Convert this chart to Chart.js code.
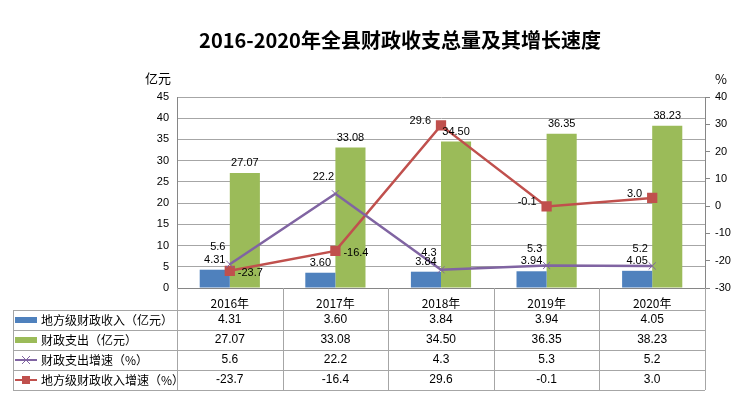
<!DOCTYPE html>
<html>
<head>
<meta charset="utf-8">
<script src="https://cdn.jsdelivr.net/npm/chart.js@4.4.1/dist/chart.umd.min.js"></script>
<style>
  html, body { margin: 0; padding: 0; background: #fff; }
  #wrap { width: 750px; height: 400px; }
</style>
</head>
<body>
<div id="wrap"><canvas id="financeChart" width="750" height="400"></canvas></div>
<script>
// data
const years = ['2016年', '2017年', '2018年', '2019年', '2020年'];
const localRevenue = [4.31, 3.60, 3.84, 3.94, 4.05];        // 亿元
const expenditure = [27.07, 33.08, 34.50, 36.35, 38.23];    // 亿元
const expenditureGrowth = [5.6, 22.2, 4.3, 5.3, 5.2];       // %
const revenueGrowth = [-23.7, -16.4, 29.6, -0.1, 3.0];      // %

const seriesNames = ['地方级财政收入（亿元）', '财政支出（亿元）', '财政支出增速（%）', '地方级财政收入增速（%）'];
const BLUE = '#4F81BD', GREEN = '#9BBB59', PURPLE = '#8064A2', RED = '#C0504D';
const CJK = '"Noto Sans CJK SC", "Liberation Sans", sans-serif';
const NUM = '"Liberation Sans", "DejaVu Sans", sans-serif';

// which side the red labels sit on
const redLabelSide = ['right', 'right', 'left', 'left', 'left'];

const extras = {
    id: 'extras',
    afterDatasetsDraw(chart) {
        const ctx = chart.ctx;
        ctx.save();
        ctx.font = '11px ' + NUM;
        ctx.fillStyle = '#000';
        ctx.textBaseline = 'middle';

        // bar labels
        [[0, localRevenue, 2], [1, expenditure, 2]].forEach(([idx, vals, dec]) => {
            const meta = chart.getDatasetMeta(idx);
            ctx.textAlign = 'center';
            meta.data.forEach((el, i) => {
                ctx.fillText(vals[i].toFixed(dec), el.x, el.y - 10);
            });
        });

        // purple labels
        chart.getDatasetMeta(2).data.forEach((el, i) => {
            ctx.textAlign = 'center';
            ctx.fillText(expenditureGrowth[i].toFixed(1), el.x - 12, el.y - 17);
        });

        // red labels
        chart.getDatasetMeta(3).data.forEach((el, i) => {
            if (redLabelSide[i] === 'right') {
                ctx.textAlign = 'left';
                ctx.fillText(revenueGrowth[i].toFixed(1), el.x + 8, el.y + 2);
            } else {
                ctx.textAlign = 'right';
                ctx.fillText(revenueGrowth[i].toFixed(1), el.x - 10, el.y - 4);
            }
        });
        ctx.restore();
    },
    afterDraw(chart) {
        const ctx = chart.ctx;
        const area = chart.chartArea;
        const n = years.length;
        const colW = (area.right - area.left) / n;
        const tableTop = 310, rowH = 20, tableLeft = 13;
        const tableBottom = tableTop + rowH * 4;

        ctx.save();
        // title
        ctx.fillStyle = '#000';
        ctx.font = 'bold 20px ' + CJK;
        ctx.textAlign = 'center';
        ctx.textBaseline = 'middle';
        ctx.fillText('2016-2020年全县财政收支总量及其增长速度', 400, 40);

        // unit labels
        ctx.font = '13px ' + CJK;
        ctx.fillText('亿元', 158, 78);
        ctx.fillText('%', 721, 79);

        // table grid
        ctx.strokeStyle = '#a6a6a6';
        ctx.lineWidth = 1;
        ctx.beginPath();
        for (let k = 0; k <= n; k++) {
            const x = Math.round(area.left + k * colW) + 0.5;
            ctx.moveTo(x, area.bottom);
            ctx.lineTo(x, tableBottom);
        }
        for (let r = 0; r <= 4; r++) {
            const y = tableTop + r * rowH + 0.5;
            ctx.moveTo(tableLeft, y);
            ctx.lineTo(area.right, y);
        }
        ctx.moveTo(tableLeft + 0.5, tableTop);
        ctx.lineTo(tableLeft + 0.5, tableBottom);
        ctx.stroke();

        // legend keys + names
        const rows = [
            localRevenue.map(v => v.toFixed(2)),
            expenditure.map(v => v.toFixed(2)),
            expenditureGrowth.map(v => v.toFixed(1)),
            revenueGrowth.map(v => v.toFixed(1))
        ];
        for (let r = 0; r < 4; r++) {
            const cy = tableTop + r * rowH + rowH / 2;
            if (r === 0 || r === 1) {
                ctx.fillStyle = r === 0 ? BLUE : GREEN;
                ctx.fillRect(15, cy - 3, 22, 6);
            } else {
                const col = r === 2 ? PURPLE : RED;
                ctx.strokeStyle = col;
                ctx.lineWidth = 2;
                ctx.beginPath();
                ctx.moveTo(15, cy);
                ctx.lineTo(37, cy);
                ctx.stroke();
                if (r === 2) {
                    ctx.lineWidth = 1;
                    ctx.beginPath();
                    ctx.moveTo(22, cy - 4); ctx.lineTo(30, cy + 4);
                    ctx.moveTo(30, cy - 4); ctx.lineTo(22, cy + 4);
                    ctx.stroke();
                } else {
                    ctx.fillStyle = col;
                    ctx.fillRect(22, cy - 4, 8, 8);
                }
            }
            ctx.fillStyle = '#000';
            ctx.font = '12px ' + CJK;
            ctx.textAlign = 'left';
            ctx.fillText(seriesNames[r], 41, cy);

            ctx.font = '12px ' + NUM;
            ctx.textAlign = 'center';
            rows[r].forEach((txt, i) => {
                ctx.fillText(txt, area.left + colW * (i + 0.5), cy);
            });
        }
        ctx.restore();
    }
};

const ctx = document.getElementById('financeChart').getContext('2d');
new Chart(ctx, {
    type: 'bar',
    data: {
        labels: years,
        datasets: [
            {
                label: seriesNames[0],
                data: localRevenue,
                backgroundColor: BLUE,
                yAxisID: 'y',
                order: 1,
                barPercentage: 1.0,
                categoryPercentage: 0.57
            },
            {
                label: seriesNames[1],
                data: expenditure,
                backgroundColor: GREEN,
                yAxisID: 'y',
                order: 1,
                barPercentage: 1.0,
                categoryPercentage: 0.57
            },
            {
                type: 'line',
                label: seriesNames[2],
                data: expenditureGrowth,
                borderColor: PURPLE,
                backgroundColor: PURPLE,
                borderWidth: 2.5,
                pointStyle: 'crossRot',
                pointRadius: 5,
                pointBorderWidth: 1,
                pointBorderColor: PURPLE,
                yAxisID: 'y',
                order: 0,
                tension: 0
            },
            {
                type: 'line',
                label: seriesNames[3],
                data: revenueGrowth,
                borderColor: RED,
                backgroundColor: RED,
                borderWidth: 2.5,
                pointStyle: 'rect',
                pointRadius: 5.5,
                yAxisID: 'y1',
                order: 0,
                tension: 0
            }
        ]
    },
    options: {
        responsive: false,
        animation: false,
        layout: { padding: { top: 97, bottom: 90, left: 0, right: 0 } },
        plugins: {
            legend: { display: false },
            title: { display: false },
            tooltip: { enabled: false }
        },
        scales: {
            x: {
                grid: { display: false },
                border: { display: true, color: '#868686' },
                ticks: {
                    color: '#000',
                    font: { size: 12, family: CJK },
                    maxRotation: 0,
                    autoSkip: false,
                    padding: 0
                },
                afterFit(scale) { scale.height = 22; }
            },
            y: {
                position: 'left',
                min: 0,
                max: 45,
                ticks: {
                    stepSize: 5,
                    color: '#000',
                    font: { size: 11, family: NUM },
                    padding: 8
                },
                grid: { color: '#a6a6a6', drawTicks: false },
                border: { color: '#868686' },
                afterFit(scale) { scale.width = 177; }
            },
            y1: {
                position: 'right',
                min: -30,
                max: 40,
                ticks: {
                    stepSize: 10,
                    color: '#000',
                    font: { size: 11, family: NUM },
                    padding: 5
                },
                grid: { drawOnChartArea: false, tickLength: 5, color: '#868686' },
                border: { color: '#868686' },
                afterFit(scale) { scale.width = 45; }
            }
        }
    },
    plugins: [extras]
});
</script>
</body>
</html>
